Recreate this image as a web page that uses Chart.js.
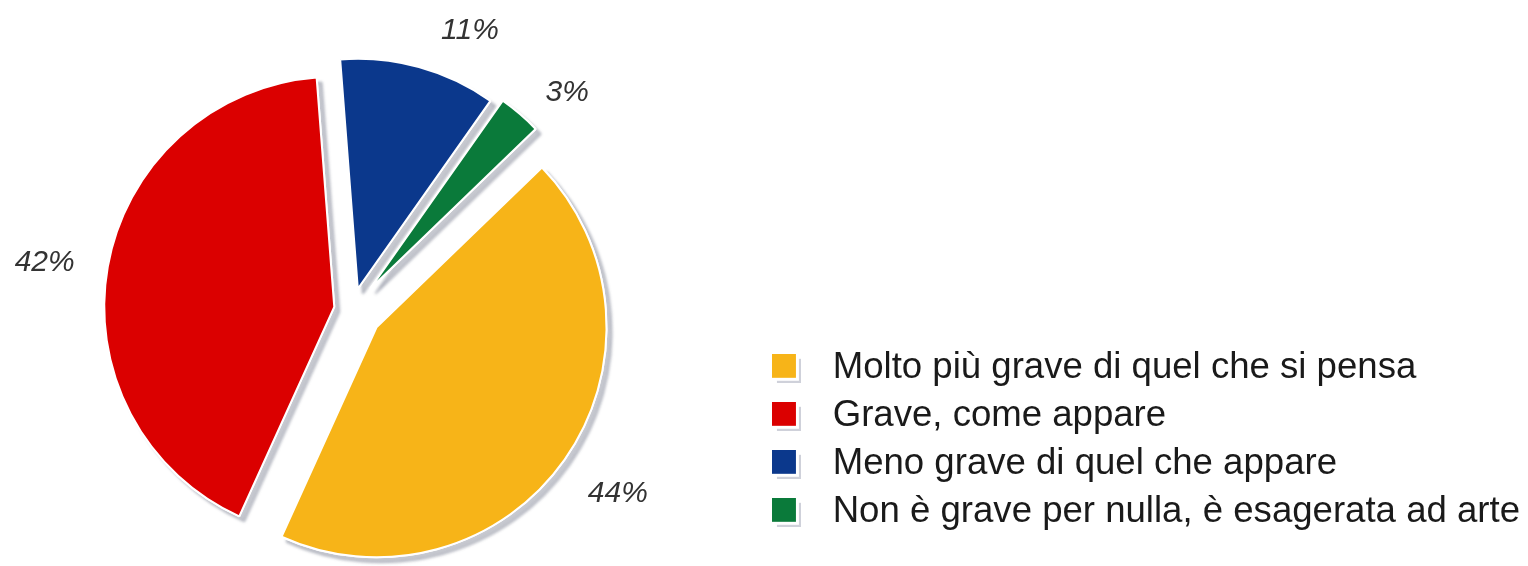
<!DOCTYPE html>
<html>
<head>
<meta charset="utf-8">
<script src="https://cdn.jsdelivr.net/npm/chart.js@4.4.0/dist/chart.umd.min.js"></script>
<style>
  html, body { margin: 0; padding: 0; background: #ffffff; overflow: hidden; }
  #wrap { position: absolute; left: -43px; top: 0; width: 1571px; height: 566px; }
</style>
</head>
<body>
<div id="wrap"><canvas id="c" width="1571" height="566"></canvas></div>
<script>
// ---- data ----
const categories = [
  'Molto più grave di quel che si pensa',
  'Grave, come appare',
  'Meno grave di quel che appare',
  'Non è grave per nulla, è esagerata ad arte'
];
const values = [44, 42, 11, 3];
const valueLabels = ['44%', '42%', '11%', '3%'];

// ---- styling ----
const colors = ['#F7B418', '#DB0000', '#0B388C', '#0A7A3A'];
const explode = [30, 18, 22, 28];          // px each slice is pulled out
const labelGap = [93, 81, 73, 76];         // px beyond the rim
const labelTurn = [-0.6, -1.2, 7.5, 4.1];  // degrees

const FONT = '"Liberation Sans", Arial, Helvetica, sans-serif';
const SHIFT = 43;                 // canvas starts this far left of the page
const W = 1528 + SHIFT, H = 566;
const legFont = 36.6, legPad = 48 - 36.6, legBoxW = 56;
const legendLeft = 747 + SHIFT;   // canvas coords
const padTop = 78, padBottom = 24;

const mctx = document.createElement('canvas').getContext('2d');
mctx.font = 'normal ' + legFont + 'px ' + FONT;
const maxTextW = Math.max(...categories.map(t => mctx.measureText(t).width));
const legendW = legPad + legBoxW + legFont / 2 + maxTextW + 10;
const padRight = W - legendLeft - legendW;

function makeSwatch(color) {
  const c = document.createElement('canvas');
  c.width = 29; c.height = 29;
  const g = c.getContext('2d');
  g.fillStyle = '#cfd1da';
  g.fillRect(5, 5, 24, 24);
  g.fillStyle = '#ffffff';
  g.fillRect(0, 0, 27, 27);
  g.fillStyle = color;
  g.fillRect(0, 0, 24, 24);
  return c;
}
const swatches = colors.map(makeSwatch);

const explodedPie = {
  id: 'explodedPie',
  beforeDatasetDraw(chart, args) {
    const ctx = chart.ctx;
    args.meta.data.forEach((arc, i) => {
      const mid = (arc.startAngle + arc.endAngle) / 2;
      const dx = Math.cos(mid) * explode[i];
      const dy = Math.sin(mid) * explode[i];
      ctx.save();
      ctx.translate(dx, dy);
      ctx.shadowColor = 'rgba(70,75,100,0.30)';
      ctx.shadowOffsetX = 5;
      ctx.shadowOffsetY = 5;
      ctx.shadowBlur = 3;
      arc.draw(ctx);
      ctx.shadowColor = 'rgba(0,0,0,0)';
      ctx.shadowOffsetX = 0;
      ctx.shadowOffsetY = 0;
      ctx.shadowBlur = 0;
      arc.draw(ctx);
      ctx.restore();
    });
    return false;
  },
  afterDatasetsDraw(chart) {
    const ctx = chart.ctx;
    const meta = chart.getDatasetMeta(0);
    ctx.save();
    ctx.font = 'italic 30px ' + FONT;
    ctx.fillStyle = '#333333';
    ctx.textAlign = 'center';
    ctx.textBaseline = 'middle';
    meta.data.forEach((arc, i) => {
      const mid = (arc.startAngle + arc.endAngle) / 2 + labelTurn[i] * Math.PI / 180;
      const d = arc.outerRadius + labelGap[i];
      ctx.fillText(valueLabels[i], arc.x + Math.cos(mid) * d, arc.y + Math.sin(mid) * d);
    });
    ctx.restore();
  }
};

new Chart(document.getElementById('c'), {
  type: 'pie',
  data: {
    labels: categories,
    datasets: [{
      data: values,
      backgroundColor: colors,
      borderColor: '#ffffff',
      borderWidth: 2,
      rotation: 46,
      radius: 230
    }]
  },
  options: {
    responsive: false,
    animation: false,
    events: [],
    layout: { padding: { left: 0, right: padRight, top: padTop, bottom: padBottom } },
    plugins: {
      tooltip: { enabled: false },
      title: { display: false },
      legend: {
        position: 'right',
        align: 'end',
        maxWidth: 2000,
        labels: {
          usePointStyle: true,
          pointStyleWidth: legBoxW,
          padding: legPad,
          color: '#1a1a1a',
          font: { size: legFont, family: FONT },
          generateLabels(chart) {
            return categories.map((t, i) => ({
              text: t,
              fillStyle: colors[i],
              strokeStyle: colors[i],
              lineWidth: 0,
              pointStyle: swatches[i],
              fontColor: '#1a1a1a',
              hidden: false,
              index: i
            }));
          }
        }
      }
    }
  },
  plugins: [explodedPie]
});
</script>
</body>
</html>
